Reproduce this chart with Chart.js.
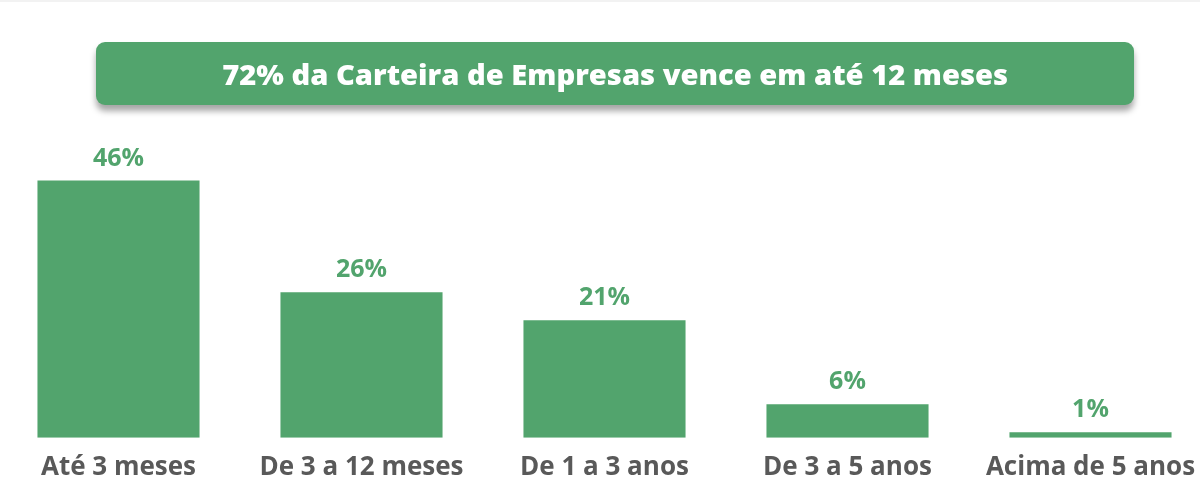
<!DOCTYPE html>
<html>
<head>
<meta charset="utf-8">
<script src="https://cdn.jsdelivr.net/npm/chart.js@4/dist/chart.umd.min.js"></script>
<style>
  html, body { margin: 0; padding: 0; background: #fff; overflow: hidden; }
  body { width: 1203px; height: 490px; position: relative; font-family: "Open Sans", sans-serif; }
  #topline { position: absolute; left: 0; top: 0; width: 1200px; height: 2px; background: #f2f2f2; }
  #title {
    position: absolute; left: 96px; top: 42px; width: 1038px; height: 63px;
    background: #52a46d; border-radius: 9px;
    box-shadow: 0 6px 6px rgba(0,0,0,0.35);
    display: flex; align-items: center; justify-content: center;
  }
  #title span {
    color: #fff; font-weight: 800; font-size: 29px; white-space: nowrap;
    display: inline-block; transform-origin: center;
  }
  #wrap { position: absolute; left: -3px; top: 0; width: 1215px; height: 497px; }
</style>
</head>
<body>
<div id="topline"></div>
<div id="wrap"><canvas id="chart"></canvas></div>
<div id="title"><span id="titleText">72% da Carteira de Empresas vence em até 12 meses</span></div>
<script>
const categories = ["Até 3 meses", "De 3 a 12 meses", "De 1 a 3 anos", "De 3 a 5 anos", "Acima de 5 anos"];
const values = [46, 26, 21, 6, 1];
const valueLabels = ["46%", "26%", "21%", "6%", "1%"];

const green = "#52a46d";

// squeeze the title to the width of the condensed original
const t = document.getElementById("titleText");
const w = t.getBoundingClientRect().width;
t.style.transform = "scaleX(" + (786 / w) + ")";

const valueLabelPlugin = {
  id: "valueLabels",
  afterDatasetsDraw(chart) {
    const ctx = chart.ctx;
    const meta = chart.getDatasetMeta(0);
    ctx.save();
    ctx.fillStyle = green;
    ctx.font = "bold 25px 'Open Sans'";
    ctx.textAlign = "center";
    ctx.textBaseline = "middle";
    meta.data.forEach((bar, i) => {
      ctx.fillText(valueLabels[i], bar.x, bar.y - 22);
    });
    ctx.restore();
  }
};

new Chart(document.getElementById("chart"), {
  type: "bar",
  data: {
    labels: categories,
    datasets: [{
      data: values,
      backgroundColor: green,
      categoryPercentage: 1,
      barPercentage: 0.667
    }]
  },
  options: {
    responsive: true,
    maintainAspectRatio: false,
    animation: false,
    layout: { padding: { top: 158, bottom: 0, left: 0, right: 0 } },
    plugins: { legend: { display: false }, tooltip: { enabled: false } },
    scales: {
      y: { display: false, min: 0, max: 50 },
      x: {
        grid: { display: false, drawTicks: false },
        border: { display: false },
        ticks: {
          padding: 14,
          color: "#595959",
          font: { family: "'Open Sans'", weight: "bold", size: 26 }
        }
      }
    }
  },
  plugins: [valueLabelPlugin]
});
</script>
</body>
</html>
